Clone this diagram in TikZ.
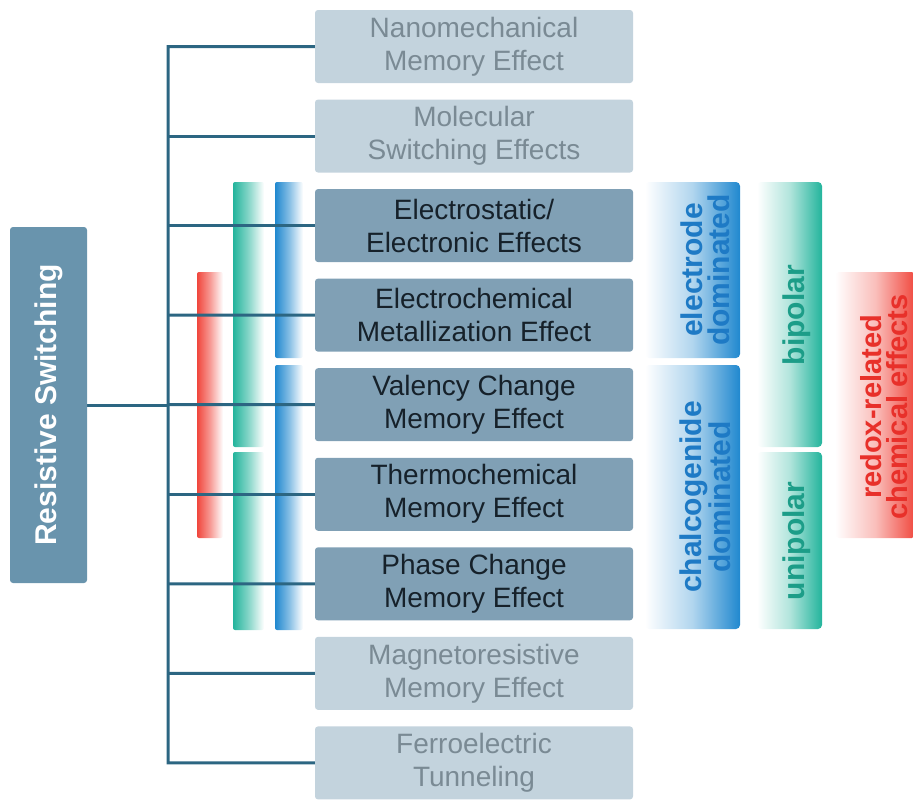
\documentclass[tikz,border=0pt]{standalone}
\usepackage{fontspec}
\setmainfont{Liberation Sans}
\definecolor{boxlight}{HTML}{C3D3DD}
\definecolor{boxlighttext}{HTML}{7A8A94}
\definecolor{boxdark}{HTML}{80A0B5}
\definecolor{boxdarktext}{HTML}{16212A}
\definecolor{rootfill}{HTML}{6994AD}
\definecolor{linecol}{HTML}{2C6682}
\definecolor{cblue}{HTML}{2088CF}
\definecolor{cbluetext}{HTML}{1E7AC5}
\definecolor{cteal}{HTML}{23B49C}
\definecolor{ctealtext}{HTML}{1C9D88}
\definecolor{cred}{HTML}{F0463C}
\definecolor{credtext}{HTML}{E8302A}
\pgfdeclarelayer{barlayer}
\pgfdeclarelayer{linelayer}
\pgfsetlayers{barlayer,linelayer,main}
\begin{document}
\begin{tikzpicture}[x=1pt,y=-1pt,
  effbox/.style={rounded corners=3pt, minimum width=318pt, minimum height=73pt, inner sep=0pt, align=center, font=\fontsize{28}{33}\selectfont},
  lightbox/.style={effbox, fill=boxlight, text=boxlighttext},
  darkbox/.style={effbox, fill=boxdark, text=boxdarktext},
  rootbox/.style={rounded corners=3pt, fill=rootfill, text=white, rotate=90, minimum width=356pt, minimum height=77pt, inner sep=0pt, font=\bfseries\fontsize{30}{33}\selectfont},
  conn/.style={draw=linecol, line width=3pt},
  lbar/.style={rounded corners=2pt, left color=#1, right color=white, middle color=#1!55},
  rbar/.style={rounded corners=4pt, left color=white, right color=#1, middle color=#1!35},
  vlabel/.style={rotate=90, align=center, font=\bfseries\fontsize{30}{27}\selectfont, inner sep=0pt}
]
\useasboundingbox (0,0) rectangle (913,803);

% root
\node[rootbox] (rs) at (48.5,405) {Resistive Switching};

% effect boxes
\node[lightbox] (b1) at (474,46.5) {Nanomechanical\\Memory Effect};
\node[lightbox] (b2) at (474,136.05) {Molecular\\Switching Effects};
\node[darkbox] (b3) at (474,225.6) {Electrostatic/\\Electronic Effects};
\node[darkbox] (b4) at (474,315.15) {Electrochemical\\Metallization Effect};
\node[darkbox] (b5) at (474,404.7) {Valency Change\\Memory Effect};
\node[darkbox] (b6) at (474,494.25) {Thermochemical\\Memory Effect};
\node[darkbox] (b7) at (474,583.8) {Phase Change\\Memory Effect};
\node[lightbox] (b8) at (474,673.35) {Magnetoresistive\\Memory Effect};
\node[lightbox] (b9) at (474,762.9) {Ferroelectric\\Tunneling};

% junctions
\coordinate (jm) at (168,405);
\foreach \i in {1,...,9} {
  \coordinate (j\i) at (168,{46.5+89.55*(\i-1)});
}

% gradient bars
\begin{pgfonlayer}{barlayer}
\shade[lbar=cred] (197,272) rectangle (223,538);
\shade[lbar=cteal] (233,182) rectangle (264,447);
\shade[lbar=cteal] (233,452) rectangle (264,630);
\shade[lbar=cblue] (275,182) rectangle (303,358);
\shade[lbar=cblue] (275,365) rectangle (303,630);
\shade[rbar=cblue] (645,182) rectangle (740,358);
\shade[rbar=cblue] (645,365) rectangle (740,629);
\shade[rbar=cteal] (757,182) rectangle (822,447);
\shade[rbar=cteal] (757,452) rectangle (822,629);
\shade[rbar=cred] (835,272) rectangle (916,538);
\end{pgfonlayer}

% connectors
\begin{pgfonlayer}{linelayer}
\draw[conn] (rs) -- (jm);
\draw[conn] (b1.west) -- (j1) -- (j9) -- (b9.west);
\foreach \i in {2,...,8} { \draw[conn] (j\i) -- (b\i.west); }
\end{pgfonlayer}

% right labels
\node[vlabel, text=cbluetext] (ed) at (705,270) {electrode\\dominated};
\node[vlabel, text=cbluetext] (cd) at (705,497) {chalcogenide\\dominated};
\node[vlabel, text=ctealtext] (bp) at (797,315) {bipolar};
\node[vlabel, text=ctealtext] (up) at (797,541) {unipolar};
\node[vlabel, text=credtext, font=\bfseries\fontsize{29}{26}\selectfont] (rr) at (884,407) {redox-related\\chemical effects};
\end{tikzpicture}
\end{document}
